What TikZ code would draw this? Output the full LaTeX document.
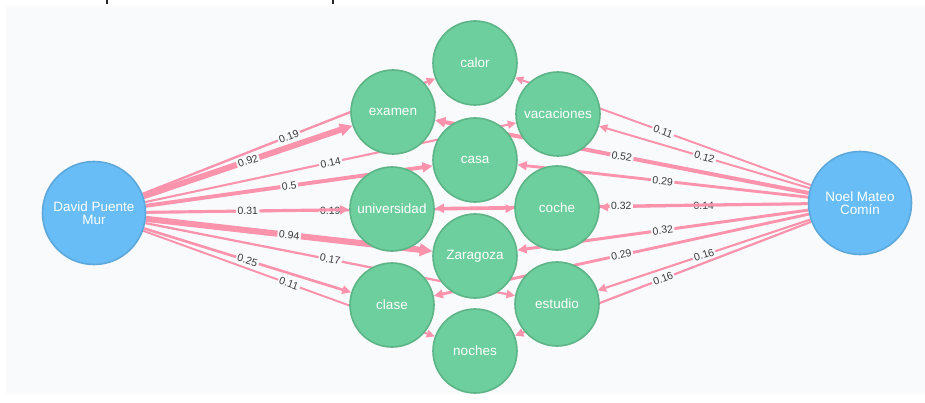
\documentclass[tikz,border=0pt]{standalone}
\usepackage{fontspec}
\setmainfont{Liberation Sans}
\usetikzlibrary{arrows.meta,backgrounds}

\definecolor{canvas}{HTML}{F9FAFC}
\definecolor{relcol}{HTML}{FB93AD}
\definecolor{labcol}{HTML}{3A3A3A}
\definecolor{termfill}{HTML}{6DCE9E}
\definecolor{termline}{HTML}{5DB587}
\definecolor{userfill}{HTML}{68BDF6}
\definecolor{userline}{HTML}{5CA8DB}

\tikzset{
  term/.style={circle, fill=termfill, draw=termline, line width=1.6pt,
    minimum size=84pt, inner sep=0pt, text=white,
    font=\fontsize{13.5}{13.5}\selectfont},
  user/.style={circle, fill=userfill, draw=userline, line width=1.6pt,
    minimum size=103pt, inner sep=0pt, text=white, align=center,
    font=\fontsize{13.5}{12.5}\selectfont},
  rel/.style={draw=relcol, line width={1.4pt+5pt*#1},
    -{Triangle[length=6pt 1.1, width=5.5pt 1.1]}},
  wlab/.style={midway, sloped, fill=canvas, inner sep=1.5pt, text=labcol,
    font=\fontsize{10.5}{10.5}\selectfont}
}

\newcommand\relline[3]{%
  \draw[rel=#3] (#1) -- node[wlab]{#3} (#2);}

\begin{document}
\begin{tikzpicture}[x=1pt,y=-1pt]
  \useasboundingbox (0,0) rectangle (925,403);

  % people
  \node[user] (david) at (94,213) {David Puente\\Mur};
  \node[user] (noel)  at (860,203) {Noel Mateo\\Comín};

  % words
  \node[term] (calor)       at (475,63)  {calor};
  \node[term] (examen)      at (393,112) {examen};
  \node[term] (vacaciones)  at (558,114) {vacaciones};
  \node[term] (casa)        at (475,160) {casa};
  \node[term] (universidad) at (392,209) {universidad};
  \node[term] (coche)       at (557,208) {coche};
  \node[term] (zaragoza)    at (475,256) {Zaragoza};
  \node[term] (clase)       at (392,305) {clase};
  \node[term] (estudio)     at (557,304) {estudio};
  \node[term] (noches)      at (475,351) {noches};

  \begin{pgfonlayer}{background}
    \fill[white] (0,0) rectangle (925,403);
    \fill[canvas] (6,6) rectangle (925,394);
    % clipped caption glyphs at the top edge
    \fill[black!85] (106.3,0) rectangle (107.9,4.5);
    \fill[black!85] (332.3,0) rectangle (333.9,4.5);

    % weighted relations of David Puente Mur
    \relline{david}{calor}{0.19}
    \relline{david}{examen}{0.92}
    \relline{david}{vacaciones}{0.14}
    \relline{david}{casa}{0.5}
    \relline{david}{coche}{0.19}
    \relline{david}{universidad}{0.31}
    \relline{david}{zaragoza}{0.94}
    \relline{david}{estudio}{0.17}
    \relline{david}{clase}{0.25}
    \relline{david}{noches}{0.11}

    % weighted relations of Noel Mateo Comín
    \relline{noel}{calor}{0.11}
    \relline{noel}{vacaciones}{0.12}
    \relline{noel}{examen}{0.52}
    \relline{noel}{casa}{0.29}
    \relline{noel}{coche}{0.14}
    \relline{noel}{universidad}{0.32}
    \relline{noel}{zaragoza}{0.32}
    \relline{noel}{clase}{0.29}
    \relline{noel}{estudio}{0.16}
    \relline{noel}{noches}{0.16}
  \end{pgfonlayer}
\end{tikzpicture}
\end{document}
